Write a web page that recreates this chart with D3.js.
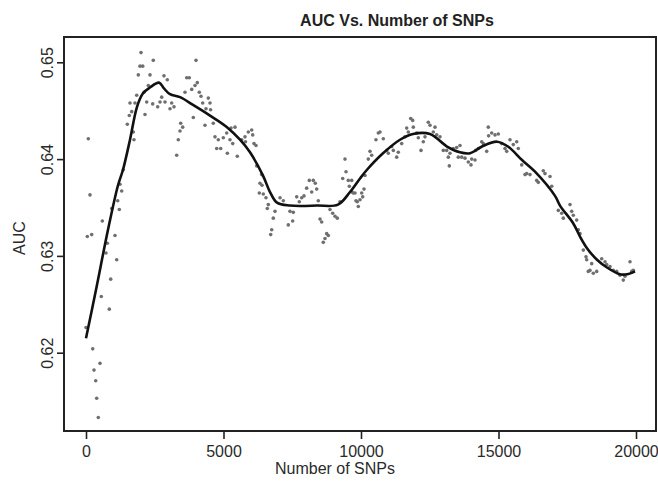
<!DOCTYPE html>
<html>
<head>
<meta charset="utf-8">
<script src="https://cdn.jsdelivr.net/npm/d3@7"></script>
<style>
  body { margin: 0; background: #fff; }
  svg { display: block; font-family: "Liberation Sans", Arial, sans-serif; }
</style>
</head>
<body>
<div id="container"></div>
<script>
let w = 658;
let h = 481;

// DATA
let snps = [0, 47, 84, 145, 207, 244, 291, 353, 389, 447, 509, 556, 593, 727, 775, 847, 898, 935, 1055, 1116,
    1153, 1211, 1236, 1298, 1356, 1502, 1575, 1600, 1662, 1720, 1745, 1782, 1844, 1902, 1964, 2000, 2062, 2109, 2145, 2207,
    2265, 2327, 2425, 2447, 2607, 2691, 2753, 2836, 2873, 2956, 3055, 3116, 3200, 3298, 3356, 3418, 3444, 3516, 3600, 3662,
    3756, 3844, 3902, 3964, 4000, 4047, 4120, 4182, 4244, 4327, 4364, 4447, 4509, 4530, 4629, 4691, 4753, 4811, 4898, 4993,
    5116, 5140, 5236, 5273, 5335, 5418, 5502, 5662, 5782, 5800, 5902, 6025, 6062, 6109, 6182, 6207, 6302, 6327, 6389, 6400,
    6447, 6545, 6593, 6629, 6716, 6753, 6811, 6873, 7055, 7175, 7356, 7418, 7516, 7538, 7662, 7756, 7844, 7927, 8025, 8120,
    8207, 8265, 8338, 8389, 8447, 8509, 8571, 8629, 8691, 8753, 8811, 8873, 8971, 9055, 9138, 9236, 9335, 9418, 9455, 9538,
    9575, 9662, 9670, 9720, 9782, 9818, 9865, 9902, 9964, 10025, 10062, 10109, 10145, 10265, 10327, 10389, 10545, 10629, 10691, 10811,
    10935, 10993, 11116, 11175, 11298, 11356, 11480, 11600, 11662, 11720, 11807, 11880, 11902, 12025, 12084, 12182, 12265, 12327, 12447, 12509,
    12629, 12691, 12753, 12873, 12993, 13116, 13175, 13211, 13236, 13356, 13480, 13538, 13600, 13662, 13782, 13902, 14000, 14025, 14145, 14171,
    14265, 14389, 14447, 14571, 14629, 14640, 14753, 14873, 14993, 15116, 15236, 15298, 15418, 15538, 15662, 15720, 15844, 15964, 16025, 16145,
    16389, 16447, 16629, 16691, 16873, 16935, 17175, 17298, 17356, 17600, 17662, 17720, 17844, 17902, 17964, 18084, 18182, 18207, 18265, 18327,
    18389, 18447, 18571, 18753, 18873, 18935, 19055, 19175, 19298, 19418, 19538, 19600, 19782, 19844, 19902];
let auc = [0.6226, 0.6320, 0.6421, 0.6363, 0.6322, 0.6204, 0.6182, 0.6171, 0.6153, 0.6133, 0.6189, 0.6258, 0.6336, 0.6303, 0.6313, 0.6245, 0.6276, 0.6349, 0.6321, 0.6296,
    0.6357, 0.6348, 0.6374, 0.6367, 0.6389, 0.6436, 0.6445, 0.6458, 0.6449, 0.6428, 0.6420, 0.6458, 0.6466, 0.6487, 0.6496, 0.6510, 0.6496, 0.6469, 0.6446, 0.6459,
    0.6476, 0.6487, 0.6457, 0.6502, 0.6454, 0.6459, 0.6464, 0.6486, 0.6459, 0.6482, 0.6452, 0.6458, 0.6454, 0.6404, 0.6420, 0.6429, 0.6437, 0.6433, 0.6469, 0.6484,
    0.6484, 0.6472, 0.6443, 0.6476, 0.6502, 0.6479, 0.6469, 0.6465, 0.6458, 0.6435, 0.6452, 0.6463, 0.6458, 0.6451, 0.6437, 0.6423, 0.6411, 0.6420, 0.6411, 0.6422,
    0.6427, 0.6406, 0.6420, 0.6432, 0.6416, 0.6433, 0.6403, 0.6420, 0.6423, 0.6418, 0.6428, 0.6430, 0.6425, 0.6416, 0.6414, 0.6393, 0.6365, 0.6375, 0.6384, 0.6373,
    0.6364, 0.6360, 0.6349, 0.6353, 0.6322, 0.6327, 0.6339, 0.6346, 0.6360, 0.6357, 0.6332, 0.6346, 0.6336, 0.6345, 0.6361, 0.6356, 0.6360, 0.6362, 0.6370, 0.6378,
    0.6366, 0.6378, 0.6375, 0.6369, 0.6357, 0.6338, 0.6335, 0.6314, 0.6318, 0.6323, 0.6321, 0.6348, 0.6344, 0.6341, 0.6339, 0.6356, 0.6380, 0.6400, 0.6387, 0.6378,
    0.6372, 0.6378, 0.6366, 0.6365, 0.6365, 0.6357, 0.6356, 0.6351, 0.6358, 0.6365, 0.6361, 0.6369, 0.6383, 0.6400, 0.6408, 0.6404, 0.6420, 0.6427, 0.6428, 0.6421,
    0.6409, 0.6406, 0.6413, 0.6409, 0.6402, 0.6407, 0.6416, 0.6423, 0.6432, 0.6428, 0.6442, 0.6440, 0.6433, 0.6427, 0.6422, 0.6409, 0.6418, 0.6423, 0.6438, 0.6435,
    0.6428, 0.6433, 0.6425, 0.6423, 0.6409, 0.6409, 0.6402, 0.6393, 0.6406, 0.6411, 0.6412, 0.6402, 0.6414, 0.6402, 0.6401, 0.6397, 0.6394, 0.6400, 0.6399, 0.6409,
    0.6411, 0.6418, 0.6416, 0.6408, 0.6433, 0.6424, 0.6427, 0.6425, 0.6426, 0.6416, 0.6411, 0.6408, 0.6420, 0.6415, 0.6418, 0.6411, 0.6394, 0.6384, 0.6385, 0.6384,
    0.6378, 0.6376, 0.6388, 0.6385, 0.6382, 0.6372, 0.6347, 0.6344, 0.6339, 0.6353, 0.6346, 0.6342, 0.6337, 0.6327, 0.6323, 0.6306, 0.6299, 0.6296, 0.6284, 0.6285,
    0.6292, 0.6282, 0.6284, 0.6297, 0.6294, 0.6291, 0.6289, 0.6285, 0.6284, 0.6280, 0.6275, 0.6279, 0.6294, 0.6284, 0.6285];

// smoothed fit
let fitSnps = [0, 364, 800, 1164, 1345, 1600, 1855, 2073, 2327, 2655, 2836, 3055, 3418, 3891, 4509, 5127, 5600, 5964, 6436, 6691,
    6945, 7418, 8400, 9164, 9600, 9964, 10218, 10800, 11418, 11891, 12509, 13127, 13600, 13964, 14400, 14945, 15345, 15855, 16327, 17055,
    17236, 17709, 17964, 18218, 18582, 18945, 19418, 19673, 19964];
let fitAuc = [0.6215, 0.6265, 0.6327, 0.6373, 0.6389, 0.6420, 0.6454, 0.6468, 0.6474, 0.6479, 0.6473, 0.6467, 0.6464, 0.6456, 0.6445, 0.6433, 0.6420, 0.6407, 0.6383, 0.6366,
    0.6355, 0.6352, 0.6352, 0.6353, 0.6366, 0.6380, 0.6389, 0.6406, 0.6420, 0.6426, 0.6426, 0.6413, 0.6407, 0.6406, 0.6413, 0.6418, 0.6413, 0.6399, 0.6387, 0.6362,
    0.6352, 0.6334, 0.6320, 0.6308, 0.6296, 0.6288, 0.6281, 0.6281, 0.6284];

let xTicks = [0, 5000, 10000, 15000, 20000];
let yTicks = [0.62, 0.63, 0.64, 0.65];

// SVG
let x = d3.scaleLinear().domain([0, 20000]).range([86, 636]);
let y = d3.scaleLinear().domain([0.62, 0.65]).range([352.7, 62.3]);

let viz = d3.select("#container").append("svg")
    .attr("width", w)
    .attr("height", h);

// points
let points = snps.map((s, i) => ({s: s, a: auc[i]}));
viz.append("g").selectAll("circle").data(points).enter()
    .append("circle")
    .attr("cx", d => x(d.s))
    .attr("cy", d => y(d.a))
    .attr("r", 1.8)
    .attr("fill", "#6f6f6f");

// fitted line
let fit = fitSnps.map((s, i) => [s, fitAuc[i]]);
let lineMaker = d3.line()
    .x(d => x(d[0]))
    .y(d => y(d[1]))
    .curve(d3.curveCatmullRom.alpha(0.5));
viz.append("path")
    .datum(fit)
    .attr("d", lineMaker)
    .attr("fill", "none")
    .attr("stroke", "#111")
    .attr("stroke-width", 2.6)
    .attr("stroke-linejoin", "round");

// frame
viz.append("rect")
    .attr("x", 64).attr("y", 37)
    .attr("width", 592).attr("height", 394)
    .attr("fill", "none")
    .attr("stroke", "#222")
    .attr("stroke-width", 2);

// axes
let xAxis = viz.append("g")
    .attr("transform", "translate(0,431)")
    .call(d3.axisBottom(x).tickValues(xTicks).tickSize(8).tickPadding(7).tickFormat(d3.format("d")));
xAxis.select(".domain").remove();

let yAxis = viz.append("g")
    .attr("transform", "translate(64,0)")
    .call(d3.axisLeft(y).tickValues(yTicks).tickSize(7).tickFormat(d3.format(".2f")));
yAxis.select(".domain").remove();
yAxis.selectAll("text")
    .attr("transform", "rotate(-90)")
    .attr("x", 0)
    .attr("y", -11)
    .attr("dy", 0)
    .attr("text-anchor", "middle");

viz.selectAll(".tick line").attr("stroke", "#222").attr("stroke-width", 1.6);
viz.selectAll(".tick text")
    .attr("fill", "#2a2a2a")
    .style("font-size", "16px")
    .style("font-family", "'Liberation Sans', Arial, sans-serif");

// titles
viz.append("text")
    .attr("x", 397).attr("y", 26)
    .attr("text-anchor", "middle")
    .attr("font-weight", "bold")
    .attr("font-size", 16)
    .attr("fill", "#222")
    .text("AUC Vs. Number of SNPs");

viz.append("text")
    .attr("x", 335).attr("y", 474)
    .attr("text-anchor", "middle")
    .attr("font-size", 16)
    .attr("fill", "#2a2a2a")
    .text("Number of SNPs");

viz.append("text")
    .attr("transform", "translate(25,238) rotate(-90)")
    .attr("text-anchor", "middle")
    .attr("font-size", 16)
    .attr("fill", "#2a2a2a")
    .text("AUC");
</script>
</body>
</html>
